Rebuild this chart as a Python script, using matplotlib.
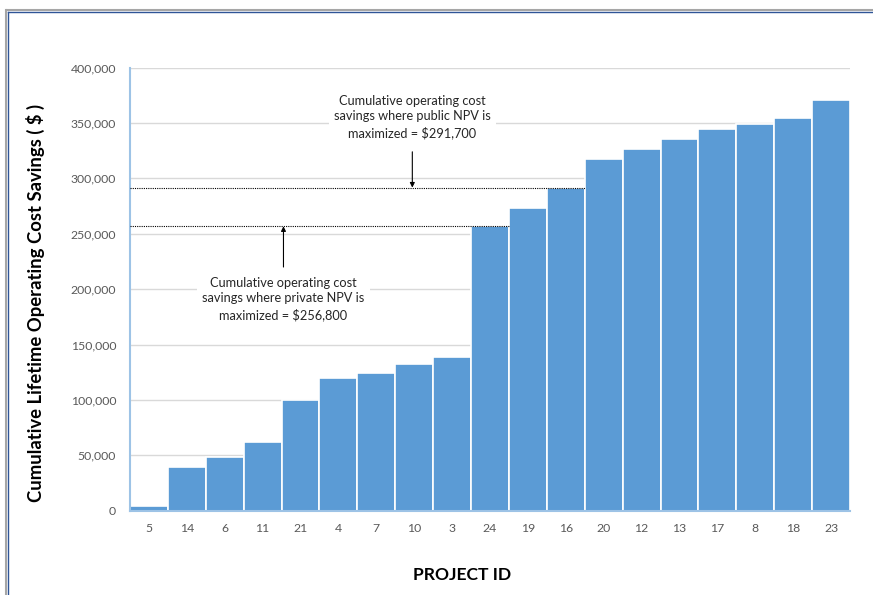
import matplotlib
matplotlib.use("Agg")
import matplotlib.pyplot as plt
from matplotlib.lines import Line2D
from matplotlib.ticker import FuncFormatter

# Project IDs ordered by cumulative savings
project_ids = ["5", "14", "6", "11", "21", "4", "7", "10", "3", "24",
               "19", "16", "20", "12", "13", "17", "8", "18", "23"]
cumulative_savings = [4000, 39500, 48800, 61800, 100000, 120100, 124100, 132500,
                      138500, 256800, 273600, 291700, 317800, 326500, 335800,
                      344600, 348800, 354200, 370500]

private_npv_savings = 256800
public_npv_savings = 291700
private_npv_project = "24"
public_npv_project = "16"

y_ticks = [0, 50000, 100000, 150000, 200000, 250000, 300000, 350000, 400000]

plt.rcParams["font.family"] = ["Lato", "DejaVu Sans"]

fig = plt.figure(figsize=(8.73, 5.95), dpi=100)
ax = fig.add_axes([130 / 873, 1 - 510.8 / 595, 720 / 873, (510.8 - 67.6) / 595])

x = list(range(len(project_ids)))
ax.bar(x, cumulative_savings, width=1.0, color="#5B9BD5",
       edgecolor="white", linewidth=1.2, zorder=3)

ax.set_xlim(-0.5, len(project_ids) - 0.5)
ax.set_ylim(0, 400000)
ax.set_yticks(y_ticks)
ax.yaxis.set_major_formatter(FuncFormatter(lambda v, p: f"{int(v):,}"))
ax.set_xticks(x)
ax.set_xticklabels(project_ids)
ax.tick_params(axis="both", length=0, labelsize=8.8, labelcolor="#595959")
ax.tick_params(axis="y", pad=10)
ax.tick_params(axis="x", pad=9)

ax.grid(axis="y", color="#D9D9D9", linewidth=1.0, zorder=0)
for side in ("top", "right"):
    ax.spines[side].set_visible(False)
for side in ("left", "bottom"):
    ax.spines[side].set_color("#9DC3E6")
    ax.spines[side].set_linewidth(1.5)
    ax.spines[side].set_zorder(4)

# Dotted reference lines at the NPV-maximising savings levels
i_priv = project_ids.index(private_npv_project)
i_pub = project_ids.index(public_npv_project)
ax.plot([-0.5, i_priv + 0.5], [private_npv_savings] * 2, color="black",
        linestyle=(0, (1, 1)), linewidth=0.8, zorder=5)
ax.plot([-0.5, i_pub + 0.5], [public_npv_savings] * 2, color="black",
        linestyle=(0, (1, 1)), linewidth=0.8, zorder=5)

box = dict(boxstyle="square,pad=0.4", facecolor="white", edgecolor="none")

pub_x = 6.95
ax.annotate("", xy=(pub_x, public_npv_savings), xytext=(pub_x, 324000),
            arrowprops=dict(arrowstyle="-|>", color="black", lw=0.8,
                            mutation_scale=7, shrinkA=0, shrinkB=0), zorder=6)
ax.text(pub_x, 355400,
        f"Cumulative operating cost\nsavings where public NPV is\nmaximized = ${public_npv_savings:,}",
        ha="center", va="center", fontsize=9.2, color="#262626",
        linespacing=1.38, bbox=box, zorder=6)

priv_x = 3.55
ax.annotate("", xy=(priv_x, private_npv_savings), xytext=(priv_x, 220000),
            arrowprops=dict(arrowstyle="-|>", color="black", lw=0.8,
                            mutation_scale=7, shrinkA=0, shrinkB=0), zorder=6)
ax.text(priv_x, 191200,
        f"Cumulative operating cost\nsavings where private NPV is\nmaximized = ${private_npv_savings:,}",
        ha="center", va="center", fontsize=9.2, color="#262626",
        linespacing=1.38, bbox=box, zorder=6)

fig.text(35 / 873, 1 - 303 / 595, "Cumulative Lifetime Operating Cost Savings ( $ )",
         rotation=90, ha="center", va="center", fontsize=13.3,
         fontweight="bold", color="black")
fig.text(462 / 873, 1 - 575 / 595, "PROJECT ID", ha="center", va="center",
         fontsize=12.6, fontweight="bold", color="black")

# Frame around the chart area
fig.add_artist(Line2D([7 / 873, 1], [1 - 10 / 595] * 2, transform=fig.transFigure,
                      color="#A6A6A6", linewidth=1.5))
fig.add_artist(Line2D([8 / 873, 1], [1 - 12 / 595] * 2, transform=fig.transFigure,
                      color="#2F5597", linewidth=1.0))
fig.add_artist(Line2D([6 / 873] * 2, [0, 1 - 10 / 595], transform=fig.transFigure,
                      color="#A6A6A6", linewidth=1.5))
fig.add_artist(Line2D([8 / 873] * 2, [0, 1 - 12 / 595], transform=fig.transFigure,
                      color="#2F5597", linewidth=1.0))

fig.savefig("out.png", dpi=100)
